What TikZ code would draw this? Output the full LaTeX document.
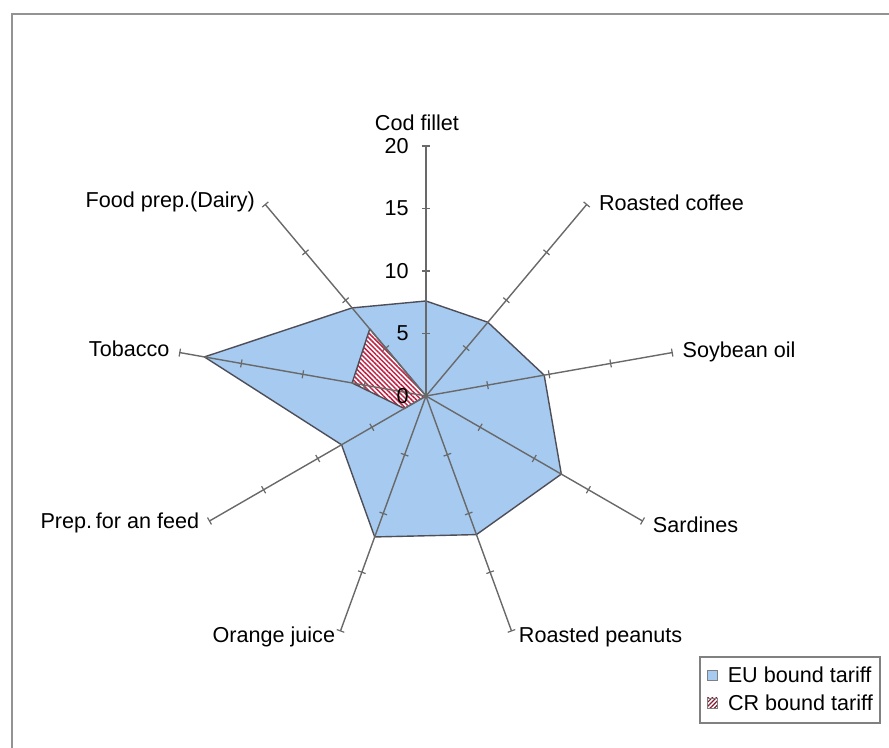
\documentclass[tikz,border=0pt]{standalone}
\usepackage{fontspec}
\setmainfont{Liberation Sans}
\usepackage{tikz}
\usetikzlibrary{positioning, patterns.meta}
\definecolor{eublue}{RGB}{166, 202, 240}
\definecolor{crred}{RGB}{190, 36, 70}
\definecolor{axisgray}{RGB}{105, 105, 105}
\definecolor{edgegray}{RGB}{78, 78, 88}
\newcommand{\pxunit}{12.5}

\begin{document}
\begin{tikzpicture}[
    x=0.5pt, y=0.5pt,
    font=\fontsize{10.8}{12}\selectfont,
    axisline/.style={axisgray, line width=0.7pt},
    tickmark/.style={axisgray, line width=0.6pt},
    eu/.style={fill=eublue, draw=edgegray, line width=0.7pt, line join=round},
    cr/.style={preaction={fill=white}, pattern={Lines[angle=-45, distance=1.7pt, line width=0.75pt]}, pattern color=crred, draw=edgegray, line width=0.7pt, line join=round},
    cat/.style={inner sep=1pt},
    scalelab/.style={anchor=east, inner sep=1pt},
    legendbox/.style={draw=gray, line width=0.8pt, fill=white},
    swatch/.style={minimum size=5pt, inner sep=0pt, draw=gray}
]
    \useasboundingbox (-426,-352) rectangle (463,396);
    \draw[gray!85, line width=1pt] (-414,-352) -- (-414,382) -- (463,382);

    \coordinate (o) at (0,0);
    \foreach \n/\a/\eu/\cr in {cod/90/7.6/0, coffee/50/7.7/0, soy/10/9.6/0, sardines/-30/12.5/0, peanuts/-70/11.8/0, juice/-110/12/0, feed/-150/7.8/2, tobacco/170/18/6, dairy/130/9.2/7}{
        \coordinate (end-\n) at (\a:20*\pxunit);
        \coordinate (eu-\n) at (\a:\eu*\pxunit);
        \coordinate (cr-\n) at (\a:\cr*\pxunit);
    }

    \draw[eu] (eu-cod) -- (eu-coffee) -- (eu-soy) -- (eu-sardines) -- (eu-peanuts) -- (eu-juice) -- (eu-feed) -- (eu-tobacco) -- (eu-dairy) -- cycle;
    \draw[cr] (cr-dairy) -- (cr-tobacco) -- (cr-feed) -- (o) -- cycle;

    \foreach \n/\a in {cod/90, coffee/50, soy/10, sardines/-30, peanuts/-70, juice/-110, feed/-150, tobacco/170, dairy/130}{
        \draw[axisline] (o) -- (end-\n);
        \begin{scope}[rotate=\a]
            \foreach \t in {5,10,15,20}
                \draw[tickmark] (\t*\pxunit,-4) -- (\t*\pxunit,4);
        \end{scope}
    }

    \foreach \v in {0,5,10,15,20}
        \node[scalelab] (scale-\v) at (-15,\v*\pxunit) {\v};

    \node[cat] (lab-cod) at ([shift={(-9,23)}]end-cod) {Cod fillet};
    \node[cat, anchor=west] (lab-coffee) at ([shift={(10,2)}]end-coffee) {Roasted coffee};
    \node[cat, anchor=west] (lab-soy) at ([shift={(8,1)}]end-soy) {Soybean oil};
    \node[cat, anchor=west] (lab-sardines) at ([shift={(8,-4)}]end-sardines) {Sardines};
    \node[cat, anchor=west] (lab-peanuts) at ([shift={(5,-6)}]end-peanuts) {Roasted peanuts};
    \node[cat, anchor=east] (lab-juice) at ([shift={(-3,-6)}]end-juice) {Orange juice};
    \node[cat, anchor=east] (lab-feed) at ([shift={(-8,-2)}]end-feed) {Prep.\,for an feed};
    \node[cat, anchor=east] (lab-tobacco) at ([shift={(-8,4)}]end-tobacco) {Tobacco};
    \node[cat, anchor=east] (lab-dairy) at ([shift={(-8,3)}]end-dairy) {Food prep.(Dairy)};

    \draw[legendbox] (274,-261) rectangle (454,-327);
    \node[swatch, fill=eublue] (key-eu) at (286,-279) {};
    \node[swatch, pattern={Lines[angle=45, distance=1.5pt, line width=0.6pt]}, pattern color=crred!70!black] (key-cr) at (286,-307) {};
    \node[cat, anchor=west, right=4pt of key-eu] (txt-eu) {EU bound tariff};
    \node[cat, anchor=west, right=4pt of key-cr] (txt-cr) {CR bound tariff};
\end{tikzpicture}
\end{document}
